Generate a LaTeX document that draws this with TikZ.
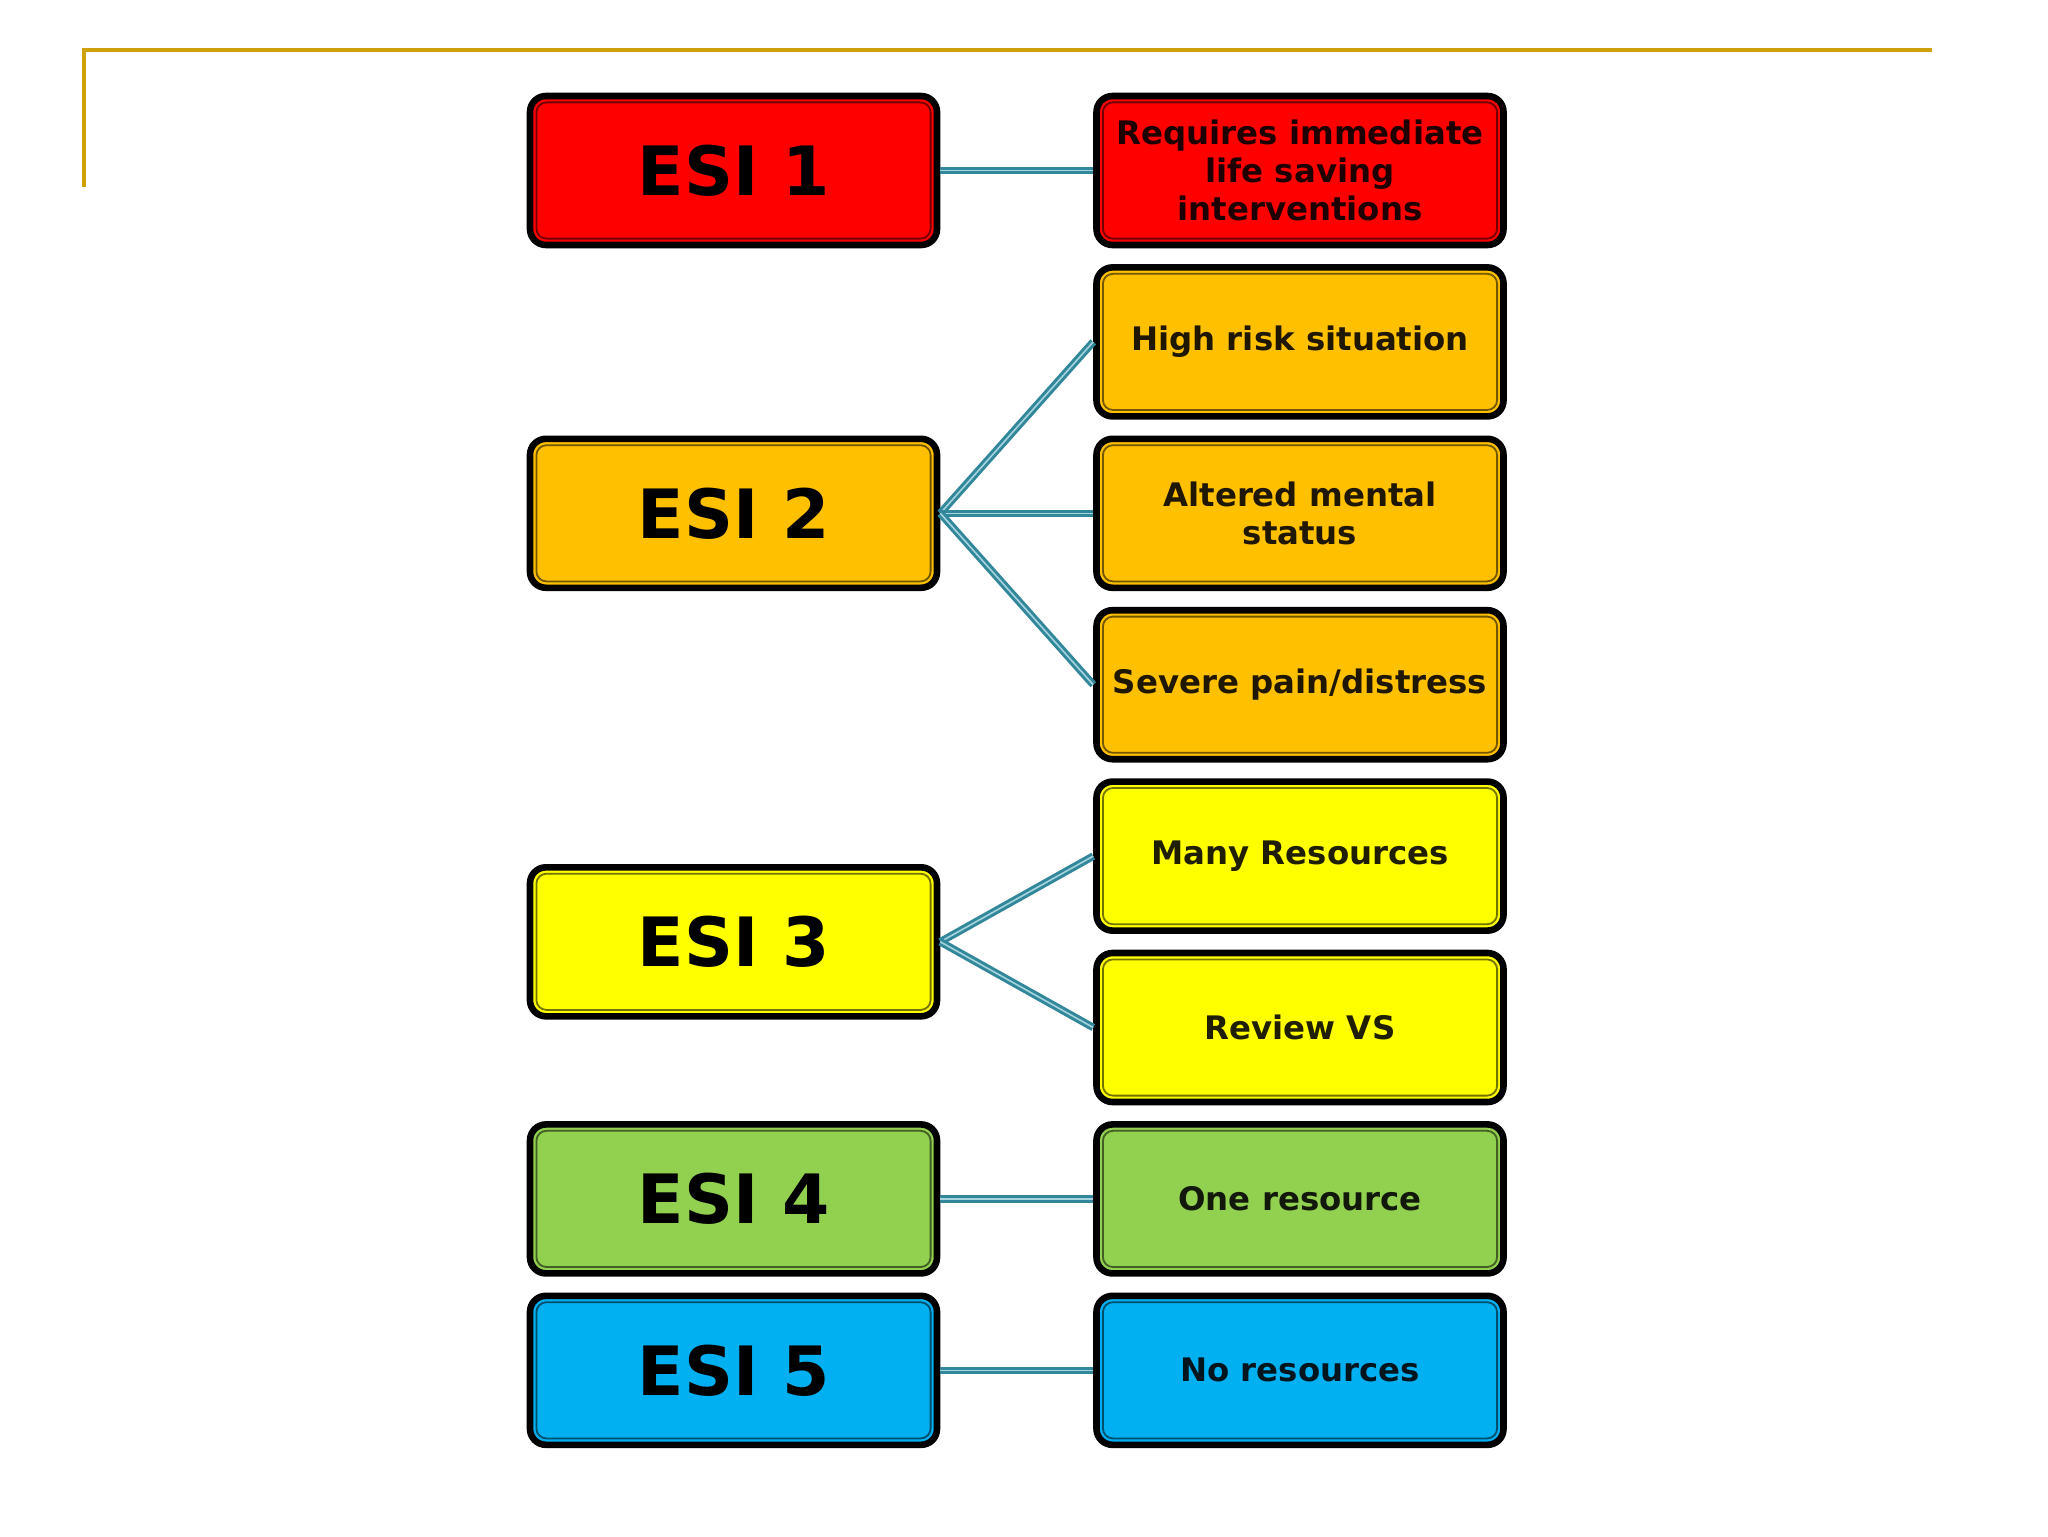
\documentclass[tikz,border=0pt]{standalone}
\usepackage{fontspec}
\setmainfont{DejaVu Sans}
\usetikzlibrary{shadows}
\definecolor{esired}{RGB}{255,0,0}
\definecolor{esiorange}{RGB}{255,192,0}
\definecolor{esiyellow}{RGB}{255,255,0}
\definecolor{esigreen}{RGB}{146,208,80}
\definecolor{esiblue}{RGB}{0,176,240}
\definecolor{slidegold}{RGB}{206,160,10}
\definecolor{linkteal}{RGB}{50,135,155}
\definecolor{linklight}{RGB}{165,212,222}
\tikzset{
  esibox/.style={draw=black, line width=3.3pt, fill=#1, rounded corners=8pt,
    minimum width=203.5pt, minimum height=74.5pt, inner sep=0pt, align=center,
    text=#1!12!black, font=\bfseries\fontsize{16.2}{19}\selectfont,
    drop shadow={shadow xshift=1.2pt, shadow yshift=-1.2pt, opacity=0.45, fill=black},
    path picture={\draw[#1!45!black, line width=0.9pt, rounded corners=5pt]
      ([shift={(3.2pt,3.2pt)}]path picture bounding box.south west) rectangle
      ([shift={(-3.2pt,-3.2pt)}]path picture bounding box.north east);}},
  esilabel/.style={font=\bfseries\fontsize{34}{40}\selectfont, text=black},
  link/.style={draw=linkteal, line width=1.5pt, double=linklight, double distance=0.8pt}
}
\begin{document}
\begin{tikzpicture}[x=0.5pt, y=-0.5pt]
\useasboundingbox (0,0) rectangle (2048,1536);
\fill[white] (0,0) rectangle (2048,1536);
% slide frame
\draw[slidegold, line width=2pt, line join=miter] (84,187) -- (84,50) -- (1932,50);
% left boxes
\node[esibox=esired, esilabel] (e1) at (733.5,170.5) {ESI 1};
\node[esibox=esiorange, esilabel] (e2) at (733.5,513.3) {ESI 2};
\node[esibox=esiyellow, esilabel] (e3) at (733.5,941.8) {ESI 3};
\node[esibox=esigreen, esilabel] (e4) at (733.5,1198.9) {ESI 4};
\node[esibox=esiblue, esilabel] (e5) at (733.5,1370.3) {ESI 5};
% right boxes
\node[esibox=esired] (r1) at (1300,170.5) {Requires immediate\\life saving\\interventions};
\node[esibox=esiorange] (r2a) at (1300,341.9) {High risk situation};
\node[esibox=esiorange] (r2b) at (1300,513.3) {Altered mental\\status};
\node[esibox=esiorange] (r2c) at (1300,684.7) {Severe pain/distress};
\node[esibox=esiyellow] (r3a) at (1300,856.1) {Many Resources};
\node[esibox=esiyellow] (r3b) at (1300,1027.5) {Review VS};
\node[esibox=esigreen] (r4) at (1300,1198.9) {One resource};
\node[esibox=esiblue] (r5) at (1300,1370.3) {No resources};
% connectors
\draw[link] (e1.east) -- (r1.west);
\draw[link] (e2.east) -- (r2a.west);
\draw[link] (e2.east) -- (r2b.west);
\draw[link] (e2.east) -- (r2c.west);
\draw[link] (e3.east) -- (r3a.west);
\draw[link] (e3.east) -- (r3b.west);
\draw[link] (e4.east) -- (r4.west);
\draw[link] (e5.east) -- (r5.west);
\end{tikzpicture}
\end{document}
